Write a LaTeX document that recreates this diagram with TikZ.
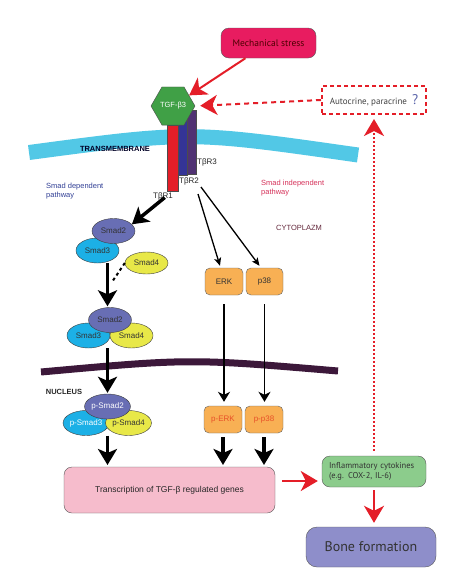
\documentclass[tikz,border=0pt]{standalone}
\usepackage{fontspec}
\setmainfont{Liberation Sans}
\newfontfamily\myriad{PT Sans}
\usepackage{tikz}
\usetikzlibrary{arrows.meta, positioning, shapes.geometric, calc}
\definecolor{stresspink}{RGB}{232,28,96}
\definecolor{arrowred}{RGB}{228,30,40}
\definecolor{tgfgreen}{RGB}{64,160,70}
\definecolor{rone}{RGB}{228,30,40}
\definecolor{rtwo}{RGB}{52,52,150}
\definecolor{rthree}{RGB}{80,50,115}
\definecolor{membcyan}{RGB}{82,200,230}
\definecolor{nucpurple}{RGB}{60,24,58}
\definecolor{smadblue}{RGB}{104,110,180}
\definecolor{smadcyan}{RGB}{28,176,230}
\definecolor{smadyellow}{RGB}{232,232,72}
\definecolor{kinorange}{RGB}{248,176,84}
\definecolor{pinkbox}{RGB}{246,188,204}
\definecolor{greenbox}{RGB}{140,204,140}
\definecolor{bonebox}{RGB}{142,142,202}
\definecolor{depblue}{RGB}{50,64,150}
\definecolor{indepred}{RGB}{214,50,90}
\definecolor{cytomaroon}{RGB}{100,40,60}
\definecolor{qblue}{RGB}{90,100,170}
\definecolor{porange}{RGB}{232,80,40}
\def \fsmall {\fontsize{8}{9.5}\selectfont}

\begin{document}
\begin{tikzpicture}[
	  x=1pt, y=-1pt,
	  smad_style/.style={
	  	ellipse,
	  	draw=black!75,
	  	minimum width=43pt,
	  	minimum height=25pt,
	  	inner sep=0pt,
	  	text=black!80,
	  	font=\fsmall
	  },
	  kinase_style/.style={
	  	rectangle,
	  	rounded corners=5pt,
	  	draw=black!60,
	  	fill=kinorange,
	  	minimum width=38pt,
	  	minimum height=27pt,
	  	inner sep=0pt,
	  	text=black!80,
	  	font=\fsmall
	  },
	  receptor_style/.style={
	  	rectangle,
	  	draw=black!70,
	  	inner sep=0pt
	  },
	  label_style/.style={
	  	inner sep=0pt,
	  	text=black!85,
	  	font=\fsmall
	  },
	  box_style/.style={
	  	rectangle,
	  	rounded corners=8pt,
	  	draw=black!65,
	  	align=center
	  },
	  red_arrow/.style={
	  	arrowred,
	  	line width=2pt,
	  	-{Stealth[length=17pt, width=20pt, inset=5pt]}
	  },
	  black_arrow/.style={
	  	black,
	  	line width=3.5pt,
	  	-{Stealth[length=16pt, width=19pt, inset=4pt]}
	  },
	  thin_arrow/.style={
	  	black,
	  	line width=1.6pt,
	  	-{Stealth[length=10pt, width=12pt, inset=3pt]}
	  }]
	\fill[white] (0,0) rectangle (463,582);
	\useasboundingbox (0,0) rectangle (463,582);
	% Membranes
	\draw[line width=15pt, membcyan] (29,152.5) .. controls (190,131) .. (358,155);
	\draw[line width=7pt, nucpurple] (41,372) .. controls (190,358.5) .. (338,371);
	\node[font=\bfseries\fontsize{7.5}{9}\selectfont, text=black!75!blue!60!black] (tm) at (115,149) {TRANSMEMBRANE};
	\node[font=\bfseries\fontsize{7.5}{9}\selectfont, text=black!85] (nuc) at (64,392) {NUCLEUS};
	\node[font=\fontsize{7.5}{9}\selectfont, text=cytomaroon] (cyto) at (299,228) {CYTOPLAZM};
	\node[anchor=west, align=left, inner sep=0pt, font=\fontsize{7.5}{9.5}\selectfont, text=depblue] (dep) at (46,191) {Smad dependent\\pathway};
	\node[anchor=west, align=left, inner sep=0pt, font=\fontsize{7.5}{9.5}\selectfont, text=indepred] (indep) at (261,188) {Smad independent\\pathway};
	% Receptors
	\node[receptor_style, fill=rthree, minimum width=9pt, minimum height=64pt] (tbr3) at (191.5,142) {};
	\node[receptor_style, fill=rtwo, minimum width=9pt, minimum height=60pt] (tbr2) at (182.5,145) {};
	\node[receptor_style, fill=rone, minimum width=11pt, minimum height=66pt] (tbr1) at (172.5,158) {};
	\node[regular polygon, regular polygon sides=6, minimum size=44pt, inner sep=0pt, draw=black!70, fill=tgfgreen, text=white, font=\fontsize{7.5}{9}\selectfont] (tgf) at (173,106) {TGF-β3};
	\node[label_style] (lr3) at (207,162) {TβR3};
	\node[label_style] (lr2) at (189,181) {TβR2};
	\node[label_style] (lr1) at (163,196) {TβR1};
	% Stimuli
	\node[box_style, fill=stresspink, minimum width=95pt, minimum height=30pt, text=black!70!red, font=\myriad\fontsize{9.5}{11}\selectfont] (stress) at (268.5,43) {Mechanical stress};
	\node[rectangle, draw=arrowred, line width=2pt, dash pattern=on 4pt off 3pt, minimum width=104pt, minimum height=28pt, text=black!75, font=\myriad\fontsize{9}{10.5}\selectfont] (auto) at (374,100) {Autocrine, paracrine\hspace{5pt}{\color{qblue}\fontsize{14}{14}\selectfont ?}};
	\draw[red_arrow] (stress) -- (tgf);
	\draw[red_arrow, dash pattern=on 5pt off 4pt, shorten >=5pt] (auto.west) -- (tgf.east);
	% Smad pathway
	\node[smad_style, fill=smadcyan] (smad3a) at (97.5,250.5) {Smad3};
	\node[smad_style, fill=smadblue] (smad2a) at (113.5,231) {Smad2};
	\node[smad_style, fill=smadyellow, minimum height=22pt] (smad4a) at (146.5,263) {Smad4};
	\node[smad_style, fill=smadcyan] (smad3b) at (88.5,335.5) {Smad3};
	\node[smad_style, fill=smadyellow] (smad4b) at (131.5,335.5) {Smad4};
	\node[smad_style, fill=smadblue] (smad2b) at (110,320) {Smad2};
	\node[smad_style, fill=smadcyan, text=white] (psmad3) at (86,423) {p-Smad3};
	\node[smad_style, fill=smadyellow] (psmad4) at (128.5,423) {p-Smad4};
	\node[smad_style, fill=smadblue, text=white] (psmad2) at (107.5,406.5) {p-Smad2};
	\coordinate (join) at (112,282);
	\draw[black_arrow, shorten <=10pt] (tbr1.south) -- (smad2a.20);
	\draw[black, line width=2pt, dash pattern=on 3pt off 3pt] (smad4a.west) -- (join);
	\draw[black_arrow, shorten >=1pt] (psmad2.north |- smad3a.south) -- (psmad2.north |- smad2b.north);
	\draw[black_arrow, shorten >=1pt] (psmad2.north |- smad3b.south) -- (psmad2.north);
	\draw[black_arrow, shorten >=2pt] (psmad2.north |- psmad3.south) -- (psmad2.north |- 0,467);
	% Kinase pathway
	\node[kinase_style] (erk) at (224,281.5) {ERK};
	\node[kinase_style, minimum width=37pt] (p38) at (264.5,281.5) {p38};
	\node[kinase_style, text=porange] (perk) at (223,419.5) {p-ERK};
	\node[kinase_style, text=porange] (pp38) at (264,419.5) {p-p38};
	\coordinate (r2a) at (198,194);
	\coordinate (r2b) at (201,187);
	\draw[black, line width=1.3pt, -{Stealth[length=8pt, width=7pt, inset=2pt]}] (r2a) -- ([xshift=-4pt, yshift=2pt]erk.north);
	\draw[black, line width=1.3pt, -{Stealth[length=8pt, width=7pt, inset=2pt]}] (r2b) -- ([xshift=-5pt, yshift=2pt]p38.north);
	\draw[thin_arrow, shorten <=9pt, shorten >=4pt] (erk.south) -- (erk.south |- perk.north);
	\draw[thin_arrow, shorten <=9pt, shorten >=4pt] (p38.south) -- (p38.south |- pp38.north);
	\draw[black_arrow, shorten <=4pt, shorten >=2pt] (perk.south) -- (perk.south |- 0,467);
	\draw[black_arrow, shorten <=4pt, shorten >=2pt] (pp38.south) -- (pp38.south |- 0,467);
	% Outcomes
	\node[box_style, fill=pinkbox, minimum width=211pt, minimum height=46pt, text=black!85, font=\fontsize{8.5}{10}\selectfont] (trans) at (169.5,490) {Transcription of TGF-β regulated genes};
	\node[box_style, fill=greenbox, text width=90pt, align=left, inner xsep=7pt, minimum height=31pt, text=black!80, font=\myriad\fontsize{8.5}{10}\selectfont] (inflam) at (374,471.5) {Inflammatory cytokines\\(e.g. COX-2, IL-6)};
	\node[box_style, rounded corners=11pt, fill=bonebox, minimum width=130pt, minimum height=40pt, text=black!80, font=\myriad\fontsize{14}{16}\selectfont] (bone) at (371,547) {Bone formation};
	\coordinate (tin) at ([yshift=-9.5pt]inflam.west);
	\draw[red_arrow, shorten <=7pt, shorten >=4pt] (trans.east |- tin) -- (tin);
	\draw[red_arrow, shorten <=3pt, shorten >=4pt] (inflam.south) -- (inflam.south |- bone.north);
	\draw[red_arrow, line width=2.3pt, dash pattern=on 2pt off 2pt, shorten <=5pt, shorten >=4pt] (inflam.north) -- (inflam.north |- auto.south);
\end{tikzpicture}
\end{document}
